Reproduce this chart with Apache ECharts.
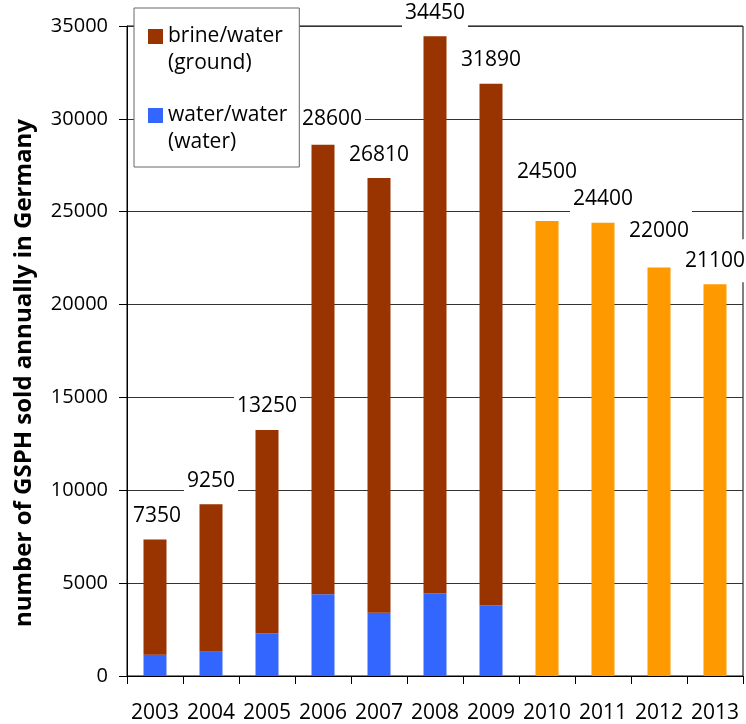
<!DOCTYPE html>
<html>
<head>
<meta charset="utf-8">
<script src="https://cdn.jsdelivr.net/npm/echarts@6/dist/echarts.min.js"></script>
<style>
  html, body { margin: 0; padding: 0; background: #ffffff; }
  #chart { width: 746px; height: 724px; }
</style>
</head>
<body>
<div id="chart"></div>
<script>
// Annual sales of ground-source heat pumps in Germany
const years = ['2003', '2004', '2005', '2006', '2007', '2008', '2009', '2010', '2011', '2012', '2013'];
// Totals per year (sum of both heat-pump types up to 2009, single figure afterwards)
const totals = [7350, 9250, 13250, 28600, 26810, 34450, 31890, 24500, 24400, 22000, 21100];
// water/water share, 2003-2009
const waterWater = [1150, 1300, 2300, 4400, 3400, 4450, 3800];
const yTicks = [0, 5000, 10000, 15000, 20000, 25000, 30000, 35000];

const NAME_BRINE = 'brine/water (ground)';
const NAME_WATER = 'water/water (water)';

const splitYear = waterWater.length;
const waterData = years.map((y, i) => i < splitYear ? waterWater[i] : '-');
const brineData = years.map((y, i) => i < splitYear ? totals[i] - waterWater[i] : '-');
const laterData = years.map((y, i) => i < splitYear ? '-' : totals[i]);

const FONT = '"Open Sans", "DejaVu Sans", sans-serif';

// Value labels sit in tall white boxes that mask the gridlines behind them
const labelStyle = {
  show: true,
  position: 'top',
  distance: 2,
  color: '#000',
  fontFamily: FONT,
  fontSize: 21,
  backgroundColor: '#ffffff',
  padding: [11, 3, 11, 3]
};

// A few labels are nudged so they do not collide with the axis, legend or neighbours
const labelOffsets = { 0: [2, 0], 3: [9, -2], 7: [0, -25], 9: [0, -13] };

function withLabel(values, formatter) {
  return values.map((v, i) => {
    if (v === '-') return v;
    const off = labelOffsets[i] || [0, 0];
    return {
      value: v,
      label: Object.assign({}, labelStyle, { offset: off, formatter: formatter(i, v) })
    };
  });
}

// Legend marker: square sitting on the first line of a two-line entry
const legendIcon = 'path://M0,6h15v15h-15z M0,0h0.01v0.01h-0.01z M15,54h0.01v0.01h-0.01z';

const chart = echarts.init(document.getElementById('chart'), null, { renderer: 'canvas' });

chart.setOption({
  animation: false,
  backgroundColor: '#ffffff',
  grid: {
    left: 127,
    right: 3,
    top: 26,
    bottom: 47.5,
    show: true,
    borderColor: '#000',
    borderWidth: 1,
    backgroundColor: 'transparent'
  },
  legend: {
    orient: 'vertical',
    left: 134,
    top: 8,
    data: [NAME_BRINE, NAME_WATER],
    formatter: name => name.replace(' (', '\n('),
    icon: legendIcon,
    itemWidth: 15,
    itemHeight: 54,
    itemGap: 25,
    padding: [15, 12, 11, 14],
    backgroundColor: '#ffffff',
    borderColor: '#666',
    borderWidth: 1,
    textStyle: {
      color: '#000',
      fontFamily: FONT,
      fontSize: 21,
      lineHeight: 27
    }
  },
  xAxis: {
    type: 'category',
    data: years,
    boundaryGap: true,
    axisLine: { show: true, lineStyle: { color: '#000', width: 1 } },
    axisTick: { show: true, alignWithLabel: false, length: 8, lineStyle: { color: '#000' } },
    axisLabel: { color: '#000', fontFamily: FONT, fontSize: 21, margin: 27, interval: 0 },
    splitLine: { show: false }
  },
  yAxis: {
    type: 'value',
    min: yTicks[0],
    max: yTicks[yTicks.length - 1],
    interval: yTicks[1] - yTicks[0],
    axisLine: { show: true, lineStyle: { color: '#000', width: 1 } },
    axisTick: { show: true, length: 8, lineStyle: { color: '#000' } },
    axisLabel: { color: '#000', fontFamily: FONT, fontSize: 20, margin: 19, formatter: v => String(v) },
    splitLine: { show: true, lineStyle: { color: '#333', width: 1 } }
  },
  graphic: [{
    type: 'text',
    x: 24,
    y: 373,
    rotation: Math.PI / 2,
    style: {
      text: 'number of GSPH sold annually in Germany',
      fontFamily: FONT,
      fontWeight: 'bold',
      fontSize: 24,
      fill: '#000',
      align: 'center',
      verticalAlign: 'middle'
    }
  }],
  series: [
    {
      name: NAME_WATER,
      type: 'bar',
      stack: 'sold',
      barWidth: 23,
      data: waterData,
      itemStyle: { color: '#3366FF' }
    },
    {
      name: NAME_BRINE,
      type: 'bar',
      stack: 'sold',
      barWidth: 23,
      data: withLabel(brineData, i => String(totals[i])),
      itemStyle: { color: '#993300' }
    },
    {
      name: 'from 2010',
      type: 'bar',
      stack: 'sold',
      barWidth: 23,
      data: withLabel(laterData, (i, v) => String(v)),
      itemStyle: { color: '#FF9900' }
    }
  ]
});
</script>
</body>
</html>
